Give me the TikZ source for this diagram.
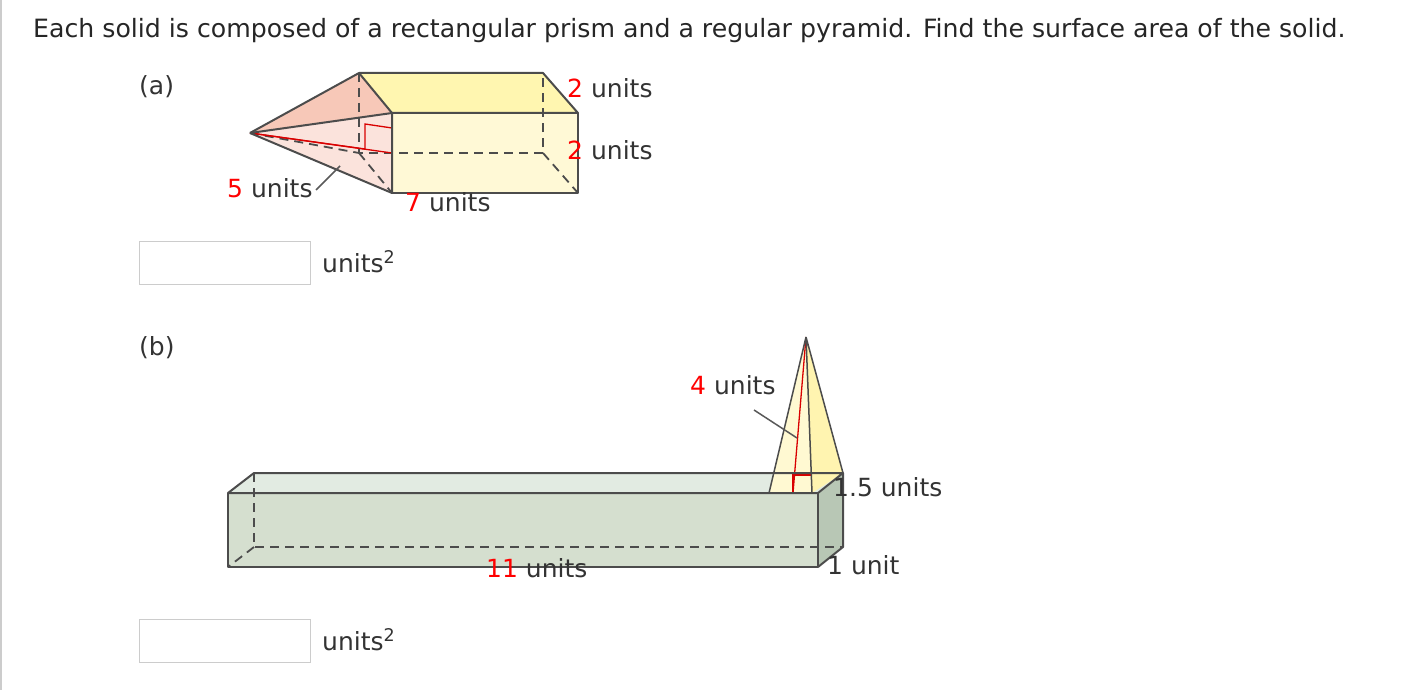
\documentclass[tikz,border=0pt]{standalone}
\usepackage{fontspec}
\setmainfont{DejaVu Sans}
\begin{document}
\begin{tikzpicture}[x=1pt,y=-1pt,
  edge/.style={draw=black!70,line width=2pt,line join=round},
  hid/.style={draw=black!70,line width=1.8pt,dash pattern=on 9pt off 6pt},
  redl/.style={draw=red!85!black,line width=1.3pt},
  lead/.style={draw=black!65,line width=1.5pt},
  lbl/.style={font=\fontsize{25}{29}\selectfont,text=black!80,inner sep=0pt,anchor=west},
  ansbox/.style={draw=black!20,line width=1pt}]
\useasboundingbox (0,0) rectangle (1404,690);
\draw[black!20,line width=1.5pt] (1,0) -- (1,690);
\node[inner sep=0pt,anchor=west,font=\fontsize{25.2}{29}\selectfont,text=black!85] (title) at (33,31) {Each solid is composed of a rectangular prism and a regular pyramid. Find the surface area of the solid.};
\node[lbl] (la) at (139,87) {(a)};
\node[lbl] (lb) at (139,348) {(b)};
% (a)
\coordinate (A) at (250,133);
\coordinate (BTL) at (359,73); \coordinate (BTR) at (543,73);
\coordinate (FTL) at (392,113); \coordinate (FTR) at (578,113);
\coordinate (FBL) at (392,193); \coordinate (FBR) at (578,193);
\coordinate (BBL) at (359,153); \coordinate (BBR) at (543,153);
\fill[fill={rgb,255:red,255;green,246;blue,176}] (BTL)--(BTR)--(FTR)--(FTL)--cycle;
\fill[fill={rgb,255:red,255;green,249;blue,214}] (FTL)--(FTR)--(FBR)--(FBL)--cycle;
\fill[fill={rgb,255:red,247;green,200;blue,184}] (A)--(BTL)--(FTL)--cycle;
\fill[fill={rgb,255:red,251;green,227;blue,220}] (A)--(FTL)--(FBL)--cycle;
\draw[hid] (BTL)--(BBL)--(BBR)--(BTR); \draw[hid] (BBR)--(FBR); \draw[hid] (BBL)--(FBL); \draw[hid] (A)--(BBL);
\draw[redl] (A)--(392,153);
\draw[redl] (A)--(365,149);
\draw[redl] (365,149)--(365,124)--(392,128);
\draw[edge] (A)--(BTL)--(BTR)--(FTR)--(FTL)--(BTL);
\draw[edge] (A)--(FTL)--(FBL)--(A);
\draw[edge] (FTL)--(FBL)--(FBR)--(FTR);
\draw[lead] (340,166)--(316,190);
\node[lbl] (a1) at (567,88) {\textcolor{red}{2} units};
\node[lbl] (a2) at (567,150) {\textcolor{red}{2} units};
\node[lbl] (a3) at (227,188) {\textcolor{red}{5} units};
\node[lbl] (a4) at (405,202) {\textcolor{red}{7} units};
\draw[ansbox] (139,241) rectangle (310,284);
\node[lbl] (u1) at (322,262) {units\textsuperscript{2}};
% (b)
\coordinate (P1) at (228,493); \coordinate (P2) at (818,493);
\coordinate (P3) at (818,567); \coordinate (P4) at (228,567);
\coordinate (Q1) at (254,473); \coordinate (Q2) at (843,473);
\coordinate (Q3) at (843,547); \coordinate (Q4) at (254,547);
\fill[fill={rgb,255:red,226;green,235;blue,226}] (P1)--(Q1)--(Q2)--(P2)--cycle;
\fill[fill={rgb,255:red,213;green,223;blue,207}] (P1)--(P2)--(P3)--(P4)--cycle;
\fill[fill={rgb,255:red,184;green,199;blue,181}] (P2)--(Q2)--(Q3)--(P3)--cycle;
\draw[hid] (Q1)--(Q4)--(Q3); \draw[hid] (Q4)--(P4);
\coordinate (T) at (806,337);
\coordinate (B1) at (769,493); \coordinate (B2) at (812,493);
\coordinate (B3) at (843,473); \coordinate (B4) at (786,473);
\fill[fill={rgb,255:red,255;green,249;blue,210}] (T)--(B1)--(B2)--cycle;
\fill[fill={rgb,255:red,255;green,244;blue,176}] (T)--(B2)--(B3)--cycle;
\draw[hid] (774,473)--(B3);
\draw[redl] (T)--(793,493);
\draw[redl] (793,493)--(793,475)--(812,475);
\draw[edge,line width=1.5pt] (T)--(B1) (T)--(B2) (T)--(B3);
\draw[edge] (P1)--(Q1)--(Q2)--(P2)--cycle;
\draw[edge] (P2)--(P3)--(P4)--(P1);
\draw[edge] (Q2)--(Q3)--(P3);
\draw[lead] (754,410)--(797,438);
\node[lbl] (b1) at (690,385) {\textcolor{red}{4} units};
\node[lbl] (b2) at (833,487) {1.5 units};
\node[lbl] (b3) at (827,565) {1 unit};
\node[lbl] (b4) at (486,568) {\textcolor{red}{11} units};
\draw[ansbox] (139,619) rectangle (310,662);
\node[lbl] (u2) at (322,640) {units\textsuperscript{2}};
\end{tikzpicture}
\end{document}
